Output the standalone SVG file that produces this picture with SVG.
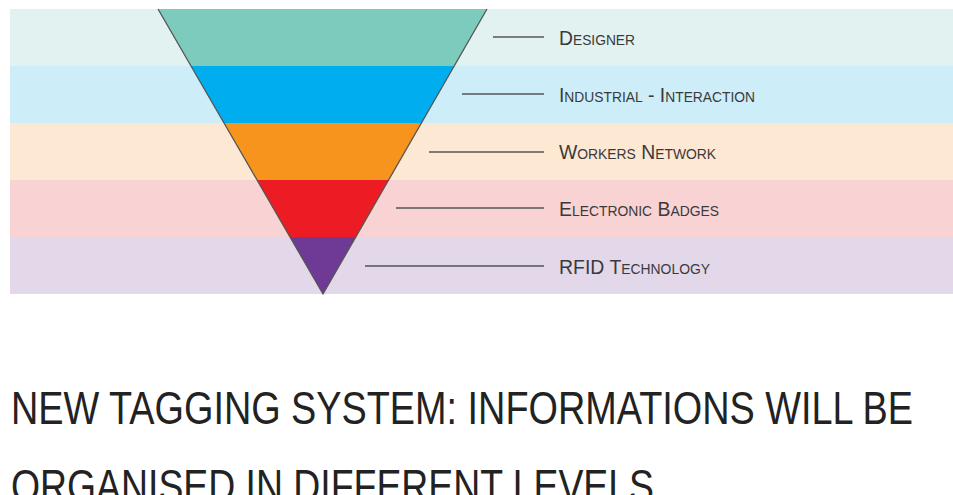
<svg xmlns="http://www.w3.org/2000/svg" width="953" height="495" viewBox="0 0 953 495">
<style>
.lbl{font-family:"Liberation Sans",Arial,sans-serif;font-size:21px;font-variant:small-caps;fill:#3a3a3a}
.ttl{font-family:"Liberation Sans",Arial,sans-serif;font-size:46px;fill:#222}
.ln{stroke:#555;stroke-width:1.5;fill:none}
.seg{stroke:none}
</style>
<rect width="953" height="495" fill="#fff"/>
<g id="bands">
<rect x="10" y="9" width="943" height="57" fill="#e1f2f1"/>
<rect x="10" y="66" width="943" height="57" fill="#cdedf9"/>
<rect x="10" y="123" width="943" height="57" fill="#fde8d3"/>
<rect x="10" y="180" width="943" height="57" fill="#f9d2d3"/>
<rect x="10" y="237" width="943" height="57" fill="#e2d8ea"/>
</g>
<g id="funnel">
<polygon class="seg" points="158,9 487,9 454.2,66 191,66" fill="#7dcbbd"/>
<polygon class="seg" points="191,66 454.2,66 421.4,123 224,123" fill="#00aeef"/>
<polygon class="seg" points="224,123 421.4,123 388.6,180 257,180" fill="#f7941d"/>
<polygon class="seg" points="257,180 388.6,180 355.8,237 290,237" fill="#ed1c24"/>
<polygon class="seg" points="290,237 355.8,237 323,294" fill="#6f3996"/>
<polyline points="158,9 323,294 487,9" fill="none" stroke="#555" stroke-width="1.3"/>
</g>
<g id="connectors">
<line class="ln" x1="493" y1="37" x2="544" y2="37"/>
<line class="ln" x1="462" y1="94" x2="544" y2="94"/>
<line class="ln" x1="429" y1="152" x2="544" y2="152"/>
<line class="ln" x1="396" y1="208" x2="544" y2="208"/>
<line class="ln" x1="365" y1="266" x2="544" y2="266"/>
</g>
<g id="n-designer"><text class="lbl" x="559" y="45" textLength="76" lengthAdjust="spacingAndGlyphs">Designer</text></g>
<g id="n-industrial"><text class="lbl" x="559" y="102" textLength="196" lengthAdjust="spacingAndGlyphs">Industrial - Interaction</text></g>
<g id="n-workers"><text class="lbl" x="559" y="159" textLength="157" lengthAdjust="spacingAndGlyphs">Workers Network</text></g>
<g id="n-badges"><text class="lbl" x="559" y="216" textLength="160" lengthAdjust="spacingAndGlyphs">Electronic Badges</text></g>
<g id="n-rfid"><text class="lbl" x="559" y="274" textLength="151" lengthAdjust="spacingAndGlyphs">RFID Technology</text></g>
<g id="title">
<text class="ttl" x="11" y="424" textLength="902" lengthAdjust="spacingAndGlyphs">NEW TAGGING SYSTEM: INFORMATIONS WILL BE</text>
<text class="ttl" x="11" y="502" textLength="643" lengthAdjust="spacingAndGlyphs">ORGANISED IN DIFFERENT LEVELS</text>
</g>
</svg>
